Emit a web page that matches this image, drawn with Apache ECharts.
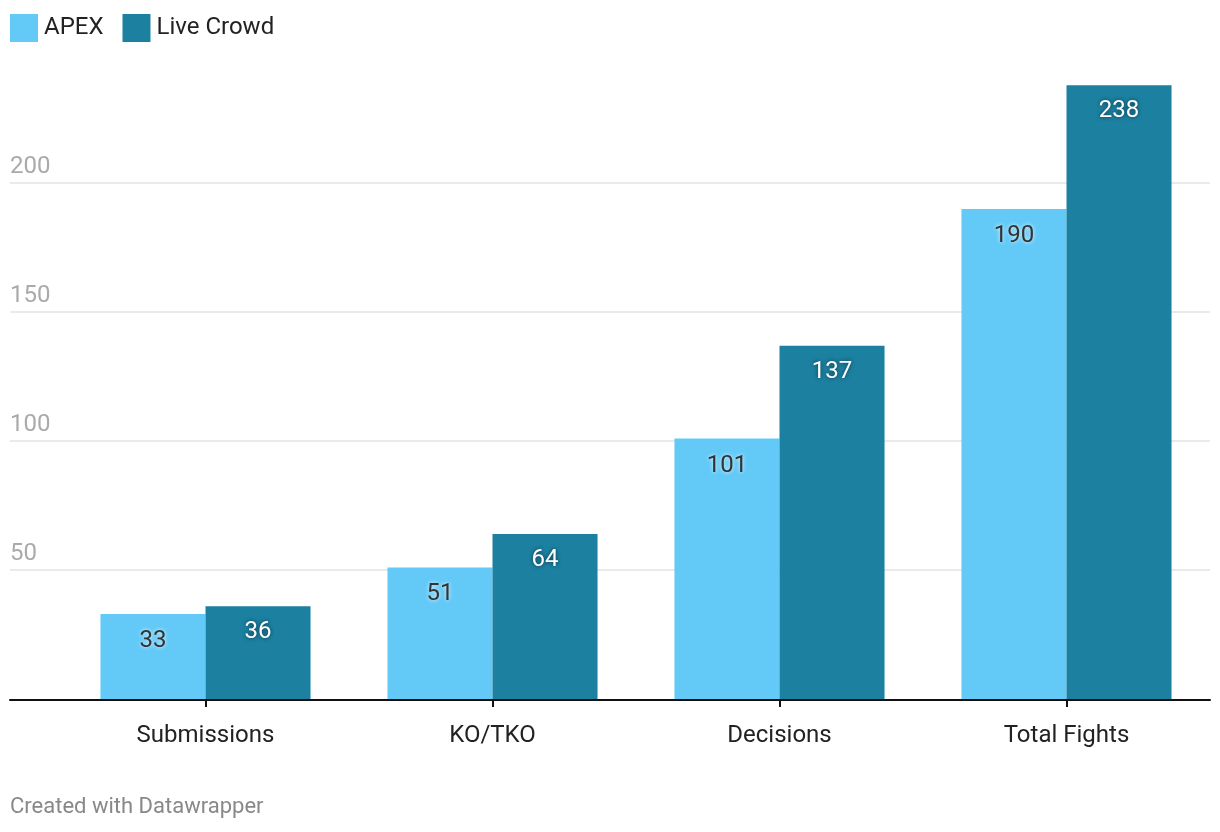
<!DOCTYPE html>
<html>
<head>
<meta charset="utf-8">
<script src="https://cdn.jsdelivr.net/npm/echarts@6/dist/echarts.min.js"></script>
<style>
html,body{margin:0;padding:0;background:#fff;}
#chart{width:1220px;height:832px;}
</style>
</head>
<body>
<div id="chart"></div>
<script>
const categories = ['Submissions', 'KO/TKO', 'Decisions', 'Total Fights'];
const apexValues = [33, 51, 101, 190];
const liveCrowdValues = [36, 64, 137, 238];
const seriesNames = ['APEX', 'Live Crowd'];
const yTickValues = [50, 100, 150, 200];
const footerText = 'Created with Datawrapper';

const FONT = 'Roboto';
const Y_MAX = 240;
const gridTop = 80, gridBottom = 133;

const chart = echarts.init(document.getElementById('chart'));
chart.setOption({
  animation: false,
  textStyle: { fontFamily: FONT },
  title: {
    text: footerText, left: 10, bottom: 14, padding: 0,
    textStyle: { fontFamily: FONT, fontSize: 22, fontWeight: 'normal', color: '#888' }
  },
  legend: {
    left: 10, top: 14, padding: 0, itemWidth: 28, itemHeight: 28, itemGap: 19,
    icon: 'rect',
    data: seriesNames,
    textStyle: { fontFamily: FONT, fontSize: 24, color: '#222', padding: [0, 0, 0, 1] }
  },
  grid: [
    { left: 10, right: 10, top: gridTop, bottom: gridBottom },
    { left: 62, right: 10, top: gridTop, bottom: gridBottom }
  ],
  xAxis: [
    { gridIndex: 0, type: 'value', min: 0, max: 1, offset: 1,
      axisLine: { show: true, onZero: false, lineStyle: { color: '#111', width: 2 } },
      axisTick: { show: false }, axisLabel: { show: false }, splitLine: { show: false } },
    { gridIndex: 1, type: 'category', data: categories, offset: 1,
      axisLine: { show: false },
      axisTick: { show: true, alignWithLabel: true, length: 8, lineStyle: { color: '#111', width: 2 } },
      axisLabel: { color: '#222', fontSize: 24, fontFamily: FONT, margin: 24 } }
  ],
  yAxis: [
    { gridIndex: 0, type: 'value', min: 0, max: Y_MAX, interval: 50,
      axisLine: { show: false }, axisTick: { show: false },
      splitLine: { show: true, lineStyle: { color: ['rgba(0,0,0,0)', '#e3e3e3', '#e3e3e3', '#e3e3e3', '#e3e3e3', 'rgba(0,0,0,0)'], width: 1.5 } },
      axisLabel: {
        inside: true, margin: 0, align: 'left', verticalAlign: 'bottom',
        padding: [0, 0, 4, 0],
        color: '#aaa', fontSize: 24, fontFamily: FONT,
        formatter: v => yTickValues.includes(v) ? String(v) : ''
      } },
    { gridIndex: 1, type: 'value', min: 0, max: Y_MAX, show: false }
  ],
  series: [
    { name: seriesNames[0], type: 'bar', xAxisIndex: 1, yAxisIndex: 1, data: apexValues,
      barGap: 0, barCategoryGap: '26.8%',
      itemStyle: { color: '#63c9f7' },
      label: { show: true, position: 'insideTop', distance: 15, fontSize: 24, fontFamily: FONT,
        color: '#333', textShadowColor: 'rgba(255,255,255,0.9)', textShadowBlur: 4 } },
    { name: seriesNames[1], type: 'bar', xAxisIndex: 1, yAxisIndex: 1, data: liveCrowdValues,
      barGap: 0, barCategoryGap: '26.8%',
      itemStyle: { color: '#1c80a1' },
      label: { show: true, position: 'insideTop', distance: 14, fontSize: 24, fontFamily: FONT,
        color: '#fff', textShadowColor: 'rgba(0,0,0,0.6)', textShadowBlur: 4 } }
  ]
});
</script>
</body>
</html>
